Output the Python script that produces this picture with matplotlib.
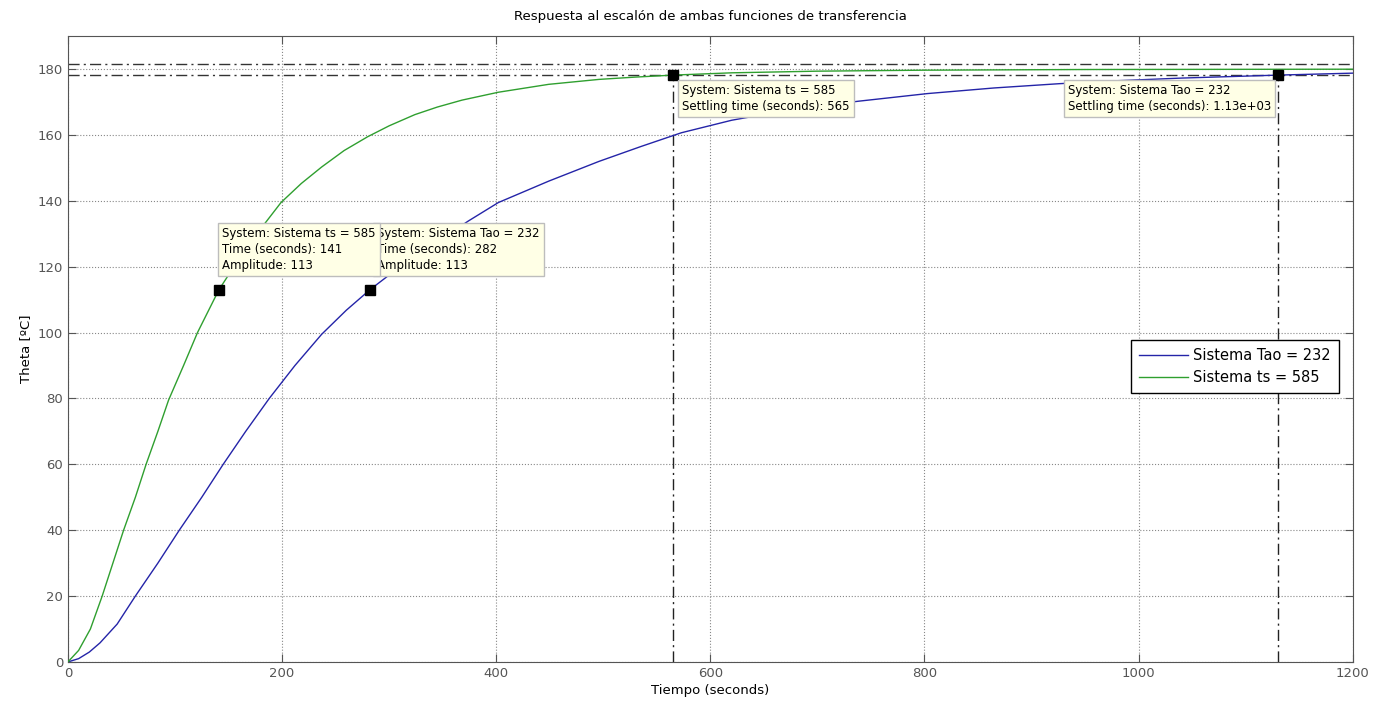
import matplotlib
matplotlib.use("Agg")
import matplotlib.pyplot as plt

# Step responses
t_tao = [0, 10, 20, 30, 46, 63, 84, 104, 125, 145, 166, 188, 212, 237, 260, 282,
         300, 320, 340, 374, 402, 449, 496, 535, 573, 620, 680, 739, 803, 865, 926,
         980, 1040, 1100, 1130, 1200]
y_tao = [0, 1.0, 3.0, 5.8, 11.5, 20, 30, 40, 50, 60, 70, 80, 90, 99.5, 106.8, 113,
         117.5, 122.3, 126.5, 133.9, 139.5, 146, 152, 156.5, 160.7, 164.5, 168, 170.3, 172.6, 174.3, 175.6,
         176.5, 177.3, 177.9, 178.2, 178.8]
t_ts = [0, 10, 21, 32, 42, 52, 63, 73, 84, 94, 108, 121, 141, 160, 180, 199, 218, 237,
        258, 280, 300, 324, 345, 368, 402, 449, 496, 530, 565, 620, 700, 800, 950, 1200]
y_ts = [0, 3.5, 10, 20, 30, 40, 50, 60, 70, 79.5, 90, 100, 113, 122.5, 131.5, 139.5, 145.3, 150.3,
        155.3, 159.5, 162.8, 166.2, 168.5, 170.6, 173, 175.4, 176.9, 177.6, 178.2, 178.9, 179.4, 179.7, 179.9, 180]

band = [181.5, 178.3]
settle_t = [565, 1130]
rise_pts = [(141, 113), (282, 113)]

fig = plt.figure(figsize=(13.86, 7.11), dpi=100)
ax = fig.add_axes([0.049, 0.069, 0.927, 0.880])

c_blue = "#2424a8"
c_green = "#2f9f2f"
ax.plot(t_tao, y_tao, color=c_blue, lw=1.0, label="Sistema Tao = 232", zorder=3)
ax.plot(t_ts, y_ts, color=c_green, lw=1.0, label="Sistema ts = 585", zorder=3)

# settling band and settling-time markers
for b in band:
    ax.axhline(b, color="#333333", lw=1.0, ls=(0, (8, 3, 1.5, 3)), zorder=2)
for ts in settle_t:
    ax.plot([ts, ts], [0, band[1]], color="#222222", lw=1.0, ls=(0, (8, 3, 1.5, 3)), zorder=2)
    ax.plot(ts, band[1], marker="s", ms=7, color="black", zorder=6)
for (xt, yt) in rise_pts:
    ax.plot(xt, yt, marker="s", ms=7, color="black", zorder=6)

ax.set_xlim(0, 1200)
ax.set_ylim(0, 190)
ax.set_xticks(range(0, 1201, 200))
ax.set_yticks(range(0, 181, 20))
ax.grid(True, ls=":", color="#888888", lw=0.8)
ax.tick_params(direction="in", length=6, colors="#555555", labelsize=9.5, top=True, right=True,
               labeltop=False, labelright=False)
for s in ax.spines.values():
    s.set_color("#555555")

ax.set_title("Respuesta al escalón de ambas funciones de transferencia", fontsize=9.5, pad=12)
ax.set_xlabel("Tiempo (seconds)", fontsize=9.5, labelpad=3)
ax.set_ylabel("Theta [ºC]", fontsize=9.5, labelpad=4)

# data tips
tip = dict(boxstyle="square,pad=0.35", fc="#ffffe6", ec="#bdbdbd", lw=1.0)
ax.text(289, 132, "System: Sistema Tao = 232\nTime (seconds): 282\nAmplitude: 113",
        fontsize=8.5, va="top", ha="left", linespacing=1.3, bbox=tip, zorder=7)
ax.text(144, 132, "System: Sistema ts = 585\nTime (seconds): 141\nAmplitude: 113",
        fontsize=8.5, va="top", ha="left", linespacing=1.3, bbox=tip, zorder=8)
ax.text(574, 175.5, "System: Sistema ts = 585\nSettling time (seconds): 565",
        fontsize=8.5, va="top", ha="left", linespacing=1.3, bbox=tip, zorder=8)
ax.text(934, 175.5, "System: Sistema Tao = 232\nSettling time (seconds): 1.13e+03",
        fontsize=8.5, va="top", ha="left", linespacing=1.3, bbox=tip, zorder=8)

leg = ax.legend(loc="center right", bbox_to_anchor=(0.995, 0.472), fontsize=10.5,
                frameon=True, fancybox=False, edgecolor="black", handlelength=3.3,
                handletextpad=0.4, borderpad=0.55, labelspacing=0.45, framealpha=1.0)
leg.get_frame().set_linewidth(1.0)
leg.set_zorder(10)

fig.savefig("out.png", dpi=100)
